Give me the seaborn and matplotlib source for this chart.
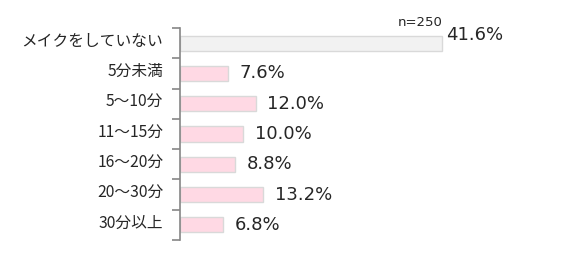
import matplotlib
matplotlib.use("Agg")
import matplotlib.pyplot as plt
import matplotlib.transforms as mtransforms
import seaborn as sns
import pandas as pd
import numpy as np

categories = ["メイクをしていない", "5分未満", "5～10分", "11～15分", "16～20分", "20～30分", "30分以上"]
values = [41.6, 7.6, 12.0, 10.0, 8.8, 13.2, 6.8]
value_labels = ["41.6%", "7.6%", "12.0%", "10.0%", "8.8%", "13.2%", "6.8%"]
bar_colors = ["#F2F2F2", "#FFD9E4", "#FFD9E4", "#FFD9E4", "#FFD9E4", "#FFD9E4", "#FFD9E4"]
note = "n=250"

sns.set_theme(style="white")
plt.rcParams["font.family"] = ["Noto Sans CJK JP", "DejaVu Sans"]

df = pd.DataFrame({"cat": categories, "val": values})

fig = plt.figure(figsize=(5.72, 2.63), dpi=100)
ax = fig.add_axes([180 / 572, 23 / 263, 315 / 572, 212 / 263])

sns.barplot(data=df, y="cat", x="val", hue="cat", palette=bar_colors, legend=False,
            orient="h", width=0.5, edgecolor="#D9D9D9", linewidth=1.0, ax=ax,
            saturation=1)

n = len(categories)
ax.set_xlim(0, 50)
ax.set_ylim(n - 0.5, -0.5)
ax.set_xlabel("")
ax.set_ylabel("")
ax.set_xticks([])

# boundary ticks (major) and centered labels (minor)
ax.set_yticks(np.arange(-0.5, n, 1.0))
ax.set_yticklabels([])
ax.set_yticks(np.arange(n), minor=True)
ax.set_yticklabels(categories, minor=True, fontsize=11.3, color="#262626")
ax.tick_params(axis="y", which="major", length=6, width=1.2, color="#868686", direction="out", left=True)
ax.tick_params(axis="y", which="minor", length=0, pad=12)
shift = mtransforms.ScaledTranslation(0, 4 / 100, fig.dpi_scale_trans)
for lab in ax.get_yticklabels(minor=True):
    lab.set_transform(lab.get_transform() + shift)

for side in ["top", "right", "bottom"]:
    ax.spines[side].set_visible(False)
ax.spines["left"].set_color("#868686")
ax.spines["left"].set_linewidth(1.2)

for i, (v, lab) in enumerate(zip(values, value_labels)):
    if i == 0:
        ax.annotate(lab, xy=(v, i), xytext=(3, 6), textcoords="offset points",
                    ha="left", va="center", fontsize=13, family="DejaVu Sans", color="#262626")
        ax.annotate(note, xy=(v, i), xytext=(0.5, 15), textcoords="offset points",
                    ha="right", va="center", fontsize=9.5, family="DejaVu Sans", color="#262626")
    else:
        ax.annotate(lab, xy=(v, i), xytext=(8.5, 0), textcoords="offset points",
                    ha="left", va="center", fontsize=13, family="DejaVu Sans", color="#262626")

fig.savefig("out.png", dpi=100, facecolor="white")
